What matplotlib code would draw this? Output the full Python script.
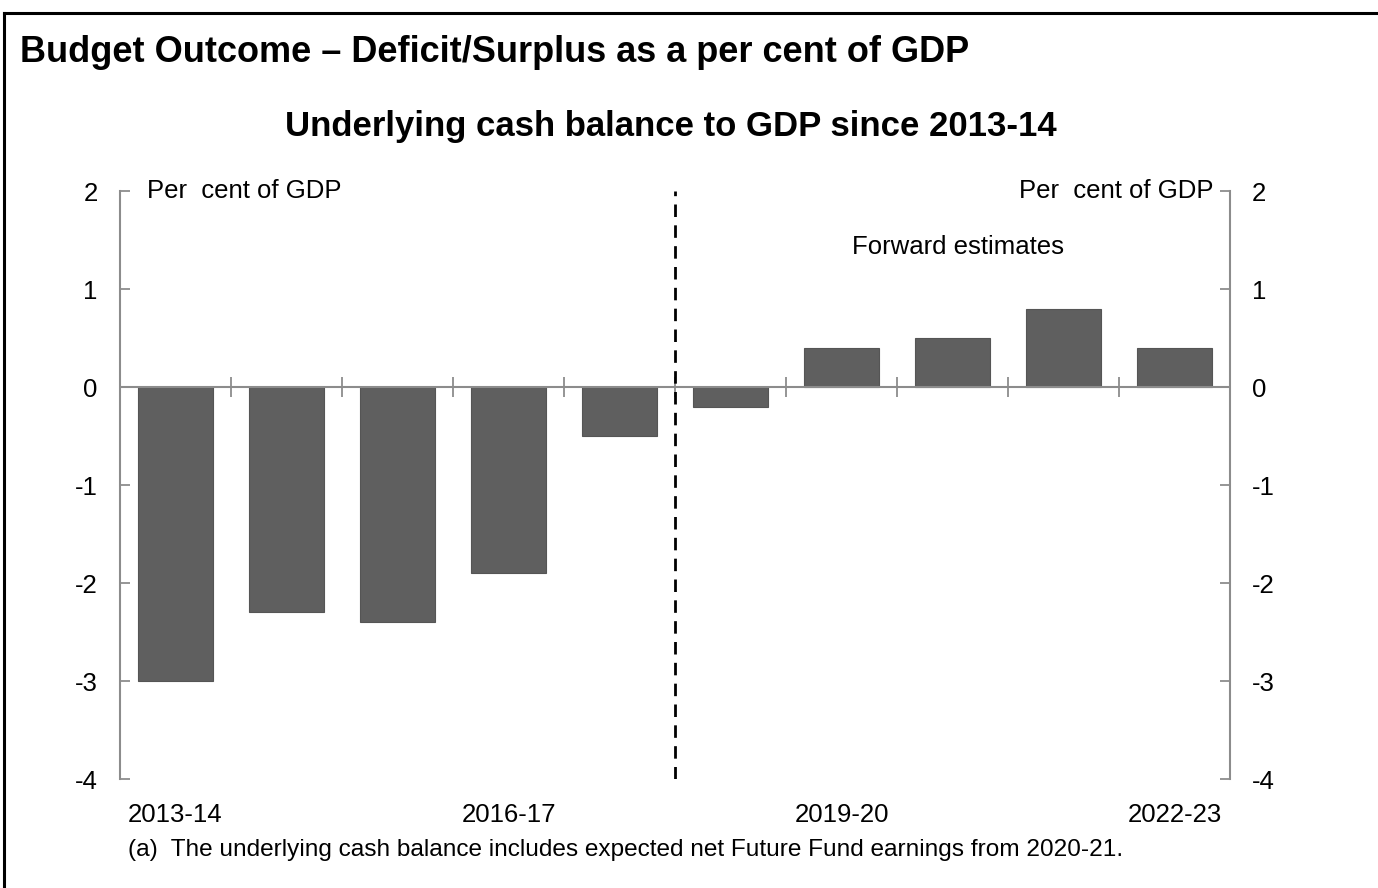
import matplotlib
matplotlib.use("Agg")
import matplotlib.pyplot as plt
from matplotlib.lines import Line2D
import numpy as np

plt.rcParams['font.family'] = ['Liberation Sans', 'DejaVu Sans']

# =======================================================
# data: underlying cash balance, per cent of GDP

years = ['2013-14', '2014-15', '2015-16', '2016-17', '2017-18',
         '2018-19', '2019-20', '2020-21', '2021-22', '2022-23']
balance = [-3.0, -2.3, -2.4, -1.9, -0.5, -0.2, 0.4, 0.5, 0.8, 0.4]
shown_labels = ['2013-14', '2016-17', '2019-20', '2022-23']
y_ticks = [2, 1, 0, -1, -2, -3, -4]
first_estimate = '2018-19'

heading = 'Budget Outcome \u2013 Deficit/Surplus as a per cent of GDP'
chart_title = 'Underlying cash balance to GDP since 2013-14'
footnote = '(a)  The underlying cash balance includes expected net Future Fund earnings from 2020-21.'

bar_color = '#5f5f5f'
axis_color = '#8c8c8c'

fig = plt.figure(figsize=(13.78, 8.88), dpi=100)
ax = fig.add_axes([0.0871, 0.1227, 0.8055, 0.6622])

x = np.arange(len(years))
ax.bar(x, balance, width=0.68, color=bar_color, edgecolor='#555555', linewidth=0.8, zorder=2)

ax.set_xlim(-0.5, len(years) - 0.5)
ax.set_ylim(-4, 2)

# spines: only left and right, grey
for side in ['top', 'bottom']:
    ax.spines[side].set_visible(False)
for side in ['left', 'right']:
    ax.spines[side].set_color(axis_color)
    ax.spines[side].set_linewidth(1.5)

# zero line with category boundary ticks
ax.axhline(0, color=axis_color, lw=1.5, zorder=3)
boundaries = x[:-1] + 0.5
ax.plot(boundaries, np.zeros(len(boundaries)), ls='none', marker='|',
        markersize=15, markeredgewidth=1.3, color=axis_color, zorder=3)

# y axis on both sides
ax.set_yticks(y_ticks)
ax.set_yticklabels([str(v) for v in y_ticks])
ax.tick_params(axis='y', direction='in', length=7, width=1.3, color=axis_color,
               labelsize=18.5, pad=16, left=True, right=True,
               labelleft=True, labelright=True)

# x tick labels, only every third year
ax.set_xticks([years.index(lbl) for lbl in shown_labels])
ax.set_xticklabels(shown_labels)
ax.tick_params(axis='x', length=0, labelsize=18.5, pad=17)

# forward estimates divider
split = years.index(first_estimate) - 0.5
ax.axvline(split, color='black', lw=2, ls=(0, (4.5, 3)), zorder=4)

ax.text(0.024, 1.0, 'Per  cent of GDP', transform=ax.transAxes, ha='left', va='center', fontsize=18.5)
ax.text(0.985, 1.0, 'Per  cent of GDP', transform=ax.transAxes, ha='right', va='center', fontsize=18.5)
ax.text(7.05, 1.43, 'Forward estimates', ha='center', va='center', fontsize=18.5)

# titles and footnote
fig.text(0.0145, 0.941, heading, ha='left', va='center', fontsize=26, fontweight='bold')
fig.text(0.487, 0.857, chart_title, ha='center', va='center', fontsize=25, fontweight='bold')
fig.text(0.093, 0.043, footnote, ha='left', va='center', fontsize=17.6)

# frame: top and left border lines only
fig.add_artist(Line2D([0.003, 1.0], [0.985, 0.985], transform=fig.transFigure, color='black', lw=2.2))
fig.add_artist(Line2D([0.003, 0.003], [0.0, 0.985], transform=fig.transFigure, color='black', lw=2.2))

fig.savefig('out.png', dpi=100)
